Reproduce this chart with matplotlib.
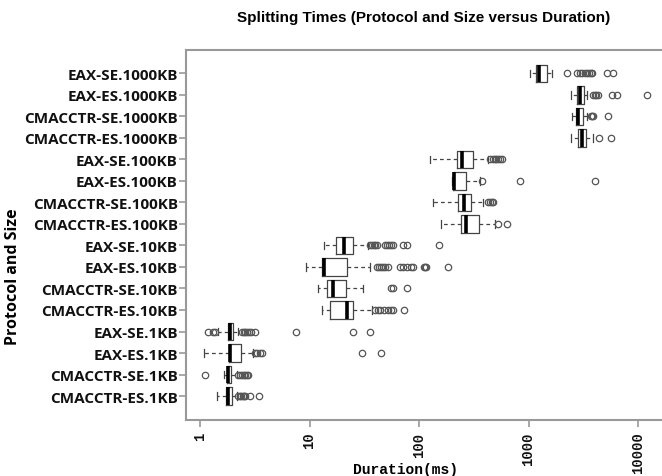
import matplotlib.pyplot as plt

# rows from top to bottom
labels = ['EAX-SE.1000KB', 'EAX-ES.1000KB', 'CMACCTR-SE.1000KB', 'CMACCTR-ES.1000KB',
          'EAX-SE.100KB', 'EAX-ES.100KB', 'CMACCTR-SE.100KB', 'CMACCTR-ES.100KB',
          'EAX-SE.10KB', 'EAX-ES.10KB', 'CMACCTR-SE.10KB', 'CMACCTR-ES.10KB',
          'EAX-SE.1KB', 'EAX-ES.1KB', 'CMACCTR-SE.1KB', 'CMACCTR-ES.1KB']

whislo = [1030, 2430, 2480, 2430, 126, 199, 135, 159, 13.6, 9.3, 12.0, 12.9, 1.45, 1.09, 1.67, 1.42]
q1 = [1170, 2755, 2715, 2810, 221, 206, 229, 242, 17.3, 12.9, 14.4, 15.4, 1.82, 1.84, 1.75, 1.72]
med = [1255, 2955, 2850, 3060, 245, 209, 258, 267, 20.8, 13.7, 16.5, 21.8, 1.88, 1.88, 1.82, 1.82]
q3 = [1485, 3235, 3170, 3350, 313, 269, 298, 356, 24.8, 22.1, 21.4, 24.8, 2.01, 2.35, 1.92, 1.95]
whishi = [1630, 3390, 3440, 3850, 430, 361, 387, 494, 34.5, 35.7, 31.0, 37.0, 2.24, 3.07, 2.16, 2.16]

fliers = [
    [2230, 2800, 2950, 3100, 3250, 3400, 3550, 3700, 3800, 5180, 5880],
    [3900, 4050, 4150, 4300, 5750, 6390, 12000],
    [3700, 3800, 3900, 5290],
    [4440, 5630],
    [445, 470, 490, 510, 530, 550, 569],
    [374, 836, 4050],
    [430, 445, 460, 478],
    [531, 631],
    [35.7, 37, 38.5, 40, 41.1, 49, 51, 53, 55, 58, 72, 77, 153],
    [41, 43, 45, 47, 49, 52.5, 67, 72, 78, 84, 89, 110, 113, 117, 183],
    [55, 57.5, 78],
    [39.8, 42, 44, 48, 52, 55, 58, 73],
    [1.19, 1.32, 1.38, 2.4, 2.5, 2.6, 2.7, 2.8, 2.95, 3.2, 7.6, 25, 35.7],
    [3.2, 3.35, 3.5, 3.66, 30.4, 44.7],
    [1.11, 2.24, 2.32, 2.4, 2.5, 2.6, 2.7, 2.76],
    [2.24, 2.3, 2.38, 2.45, 2.52, 2.6, 2.86, 3.46],
]

xticks = [1, 10, 100, 1000, 10000]

stats = []
for i in range(len(labels)):
    stats.append({'whislo': whislo[i], 'q1': q1[i], 'med': med[i], 'q3': q3[i],
                  'whishi': whishi[i], 'fliers': fliers[i], 'label': labels[i]})

n = len(labels)
pos = list(range(n, 0, -1))

fig = plt.figure(figsize=(6.62, 4.77), dpi=100)
ax = fig.add_axes([186 / 662, 1 - 420.7 / 477, 1 - 186 / 662, 370 / 477])

gray = '#999999'
ax.bxp(stats, positions=pos, vert=False, widths=0.82, capwidths=0.35,
       boxprops=dict(color='#444444', linewidth=0.9),
       medianprops=dict(color='black', linewidth=2.6),
       whiskerprops=dict(color='#444444', linewidth=0.9, linestyle=(0, (3, 2.5))),
       capprops=dict(color='#444444', linewidth=0.9),
       flierprops=dict(marker='o', markersize=4.6, markerfacecolor='none',
                       markeredgecolor='#555555', markeredgewidth=0.9))

ax.set_xscale('log')
ax.set_xlim(0.745, 16560)
ax.set_ylim(1 - 1.1, n + 1.1)

ax.set_yticks(pos)
ax.set_yticklabels(labels, family='Open Sans', fontweight='bold', fontsize=11, color='#111111')
ax.set_xticks(xticks)
ax.set_xticklabels([str(v) for v in xticks], family='Liberation Mono', fontweight='bold',
                   fontsize=10, rotation=90, color='#111111')
ax.minorticks_off()

for s in ['left', 'top', 'bottom']:
    ax.spines[s].set_color(gray)
    ax.spines[s].set_linewidth(1.5)
ax.spines['right'].set_visible(False)
ax.tick_params(axis='both', color=gray, width=1.2, length=5)
ax.tick_params(axis='y', pad=1)

fig.text(405 / 662, 1 - 470 / 477, 'Duration(ms)', ha='center', va='center',
         family='Liberation Mono', fontweight='bold', fontsize=10.5)
fig.text(13 / 662, 1 - 277 / 477, 'Protocol and Size', ha='center', va='center', rotation=90,
         family='Open Sans', fontweight='bold', fontsize=11.5)
fig.text(424 / 662, 1 - 18 / 477, 'Splitting Times (Protocol and Size versus Duration)',
         ha='center', va='center', family='Liberation Sans', fontweight='bold', fontsize=11)

fig.savefig('out.png', dpi=100)
